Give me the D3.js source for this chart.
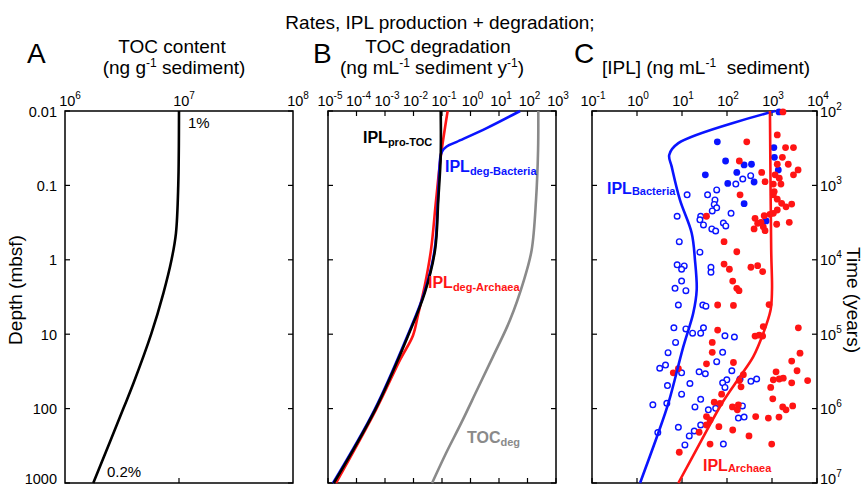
<!DOCTYPE html>
<html>
<head>
<meta charset="utf-8">
<script src="https://cdn.jsdelivr.net/npm/d3@7"></script>
<style>
    body { margin: 0; background: #fff; }
    svg { font-family: "Liberation Sans", Arial, sans-serif; }
    text { white-space: pre; }
</style>
</head>
<body>
<div id="chart" style="width:868px;height:486px;"></div>
<script>
// ---- axes ----
var depthTicks = [0.01, 0.1, 1, 10, 100, 1000];
var depthLabels = ["0.01", "0.1", "1", "10", "100", "1000"];
var timeTicks = [1e2, 1e3, 1e4, 1e5, 1e6, 1e7];
var aTopExp = [6, 7, 8];
var bTopExp = [-5, -4, -3, -2, -1, 0, 1, 2, 3];
var cTopExp = [-1, 0, 1, 2, 3, 4];
var cRightExp = [2, 3, 4, 5, 6, 7];

// ---- A: TOC content (ng/g) vs depth ----
var tocDepth = [0.01, 0.1, 0.44, 1, 2.8, 10, 45, 100, 1000];
var tocContent = [1.0e7, 9.85e6, 9.4e6, 8.6e6, 7.3e6, 5.7e6, 4.0e6, 3.25e6, 1.77e6];

// ---- B: rates (ng/mL/y) vs depth ----
var tocDegDepth = [0.01, 0.0334, 0.157, 0.738, 1.87, 6.45, 20, 56.3, 158, 398, 1000];
var tocDegRate = [239, 235, 199, 140, 75, 24.3, 6.15, 1.69, 0.465, 0.138, 0.045];
var arcDegDepth = [0.01, 0.043, 0.157, 0.74, 2.2, 5.5, 10.4, 22, 104, 1000];
var arcDegRate = [0.158, 0.089, 0.062, 0.041, 0.025, 0.0144, 0.0096, 0.0034, 0.00048, 1.9e-5];
var bacDegDepth = [0.01, 0.017, 0.026, 0.030, 0.035, 0.041, 0.157, 0.74, 2.76, 10.4, 104, 1000];
var bacDegRate = [55, 3.7, 0.33, 0.146, 0.1, 0.088, 0.072, 0.055, 0.024, 0.0062, 0.00043, 1.5e-5];
var proDepth = [0.01, 0.041, 0.157, 0.74, 2.76, 10.4, 104, 1000];
var proRate = [0.09, 0.09, 0.074, 0.057, 0.025, 0.0065, 0.00045, 1.6e-5];

// ---- C: [IPL] (ng/mL) vs depth ----
var cBacDepth = [0.01, 0.027, 0.039, 0.056, 0.157, 0.436, 1.0, 2.55, 5.2, 14.7, 84, 213, 1000];
var cBacConc = [1170, 8.3, 5.2, 5.9, 9.0, 16.4, 19.4, 21.2, 17.8, 10.7, 5.0, 2.97, 1.17];
var cArcDepth = [0.01, 0.74, 2.55, 4.73, 9.7, 20, 37, 81, 264, 1000];
var cArcConc = [900, 960, 1000, 930, 640, 384, 195, 81, 27.4, 8.3];

// measured samples [conc, depth]
var bacFilled = [[61, 0.026], [93, 0.047], [33, 0.072], [240, 0.053], [350, 0.052], [165, 0.067],
    [104, 0.094], [400, 0.090], [240, 0.176], [1100, 0.031], [1130, 0.042], [1380, 0.062],
    [740, 0.30], [1430, 0.0103]];
var bacOpen = [[157, 0.096], [224, 0.082], [336, 0.074], [123, 0.237], [83, 0.32], [94, 0.35],
    [13, 0.134], [37, 0.134], [59, 0.115], [54, 0.157], [52, 0.18], [59, 0.20], [47, 0.22],
    [7.8, 0.26], [26, 0.26], [25, 0.29], [30, 0.34], [46, 0.385], [56, 0.41],
    [8.7, 0.57], [25, 0.79], [7.8, 1.17], [11.2, 1.21], [9.8, 1.34], [44, 1.26], [44, 1.47],
    [9.8, 1.93], [7.0, 2.42], [12.2, 2.6], [8.3, 4.05], [29, 4.05], [34, 4.2], [6.6, 8.2],
    [12.2, 8.5], [17.2, 9.7], [26, 9.7], [30, 8.2], [7.2, 12.9], [4.9, 17.7], [3.2, 28.7],
    [4.3, 26], [9.8, 33], [24, 32], [33, 34], [4.75, 49], [15, 46], [9.8, 64], [2.25, 89],
    [4.6, 85], [26, 75], [19.4, 95], [38.5, 104], [56, 99], [2.9, 210], [8.3, 178], [14.5, 233],
    [18.7, 200], [26, 166], [11.6, 308], [83, 300], [59, 23.4], [80, 17.5], [90, 10.5],
    [146, 10.9], [128, 31], [99, 41], [80, 45], [90, 52], [195, 40], [340, 43], [456, 40],
    [220, 92], [179, 134], [240, 130]];
var arcFilled = [[1750, 0.0103], [35, 0.26], [86, 0.57], [86, 1.14], [275, 0.026], [1310, 0.021],
    [2000, 0.031], [3000, 0.031], [1700, 0.042], [1310, 0.052], [2300, 0.052], [188, 0.047],
    [590, 0.067], [1170, 0.072], [1450, 0.080], [1580, 0.096], [3000, 0.072], [3800, 0.062],
    [700, 0.089], [1070, 0.096], [1120, 0.121], [1070, 0.134], [195, 0.134], [1310, 0.153],
    [1640, 0.174], [2050, 0.194], [2740, 0.178], [1310, 0.214], [1070, 0.237], [900, 0.245],
    [670, 0.255], [420, 0.277], [570, 0.314], [480, 0.323], [400, 0.385], [640, 0.36],
    [700, 0.406], [1270, 0.333], [2420, 0.314], [165, 0.78], [113, 1.34], [340, 1.26],
    [480, 1.2], [620, 1.44], [134, 1.93], [165, 2.42], [185, 2.6],
    [62, 4.05], [62, 8.8], [47, 12.9], [47, 17.5], [35, 25], [8.3, 29], [6.4, 33], [76, 64],
    [52, 82], [70, 85], [35, 128], [42, 142], [66, 175], [35, 166], [24, 208], [42, 300],
    [8.7, 386], [139, 4.1], [860, 4.0], [3850, 8.2], [420, 10.6], [520, 10.3], [640, 7.9],
    [620, 10.6], [4190, 18], [2740, 23], [139, 24], [1230, 32], [3600, 31], [6200, 42],
    [2740, 45], [1070, 41], [1450, 40], [1780, 39], [231, 35], [188, 42], [205, 51], [936, 52],
    [1040, 74], [132, 95], [179, 89], [170, 104], [1730, 95], [2050, 104], [2880, 92],
    [434, 128], [830, 134], [1430, 130], [134, 194], [308, 233], [985, 300]];

var BLUE = "#0a14ff", RED = "#ff1414", GRAY = "#8a8a8a";

var svg = d3.select("#chart")
    .append("svg")
    .attr("width", 868)
    .attr("height", 486);

var plotTop = 111, plotBottom = 483;
var y = d3.scaleLog().domain([0.01, 1000]).range([plotTop, plotBottom]);
var yTime = d3.scaleLog().domain([1e2, 1e7]).range([plotTop, plotBottom]);
var xA = d3.scaleLog().domain([1e6, 1e8]).range([65, 293]);
var xB = d3.scaleLog().domain([1e-5, 1e3]).range([328, 556]);
var xC = d3.scaleLog().domain([1e-1, 1e4]).range([592, 817]);

// text with super/subscript parts
function addText(x, yy, parts, size, anchor, color, weight) {
    var t = svg.append("text")
        .attr("x", x)
        .attr("y", yy)
        .attr("font-size", size)
        .attr("text-anchor", anchor || "start")
        .attr("fill", color || "#000")
        .attr("font-weight", weight || "normal");
    var shift = 0;
    parts.forEach(function (p) {
        if (typeof p === "string") p = { t: p };
        var s = 0;
        if (p.sup) s = -(p.up || size * 0.42);
        if (p.sub) s = p.down || size * 0.25;
        var ts = t.append("tspan").attr("dy", s - shift).text(p.t);
        if (p.size) ts.attr("font-size", p.size);
        if (p.w) ts.attr("font-weight", p.w);
        shift = s;
    });
    return t;
}

function frame(x) {
    var r = x.range();
    svg.append("rect")
        .attr("x", r[0])
        .attr("y", plotTop)
        .attr("width", r[1] - r[0])
        .attr("height", plotBottom - plotTop)
        .attr("fill", "none")
        .attr("stroke", "#000")
        .attr("stroke-width", 1.5);
}

function ticks(x, xVals, yScale, yVals) {
    var r = x.range();
    var g = svg.append("g").attr("stroke", "#000").attr("stroke-width", 1.2);
    xVals.forEach(function (v) {
        g.append("line").attr("x1", x(v)).attr("x2", x(v)).attr("y1", plotTop).attr("y2", plotTop + 5);
        g.append("line").attr("x1", x(v)).attr("x2", x(v)).attr("y1", plotBottom).attr("y2", plotBottom - 5);
    });
    yVals.forEach(function (v) {
        g.append("line").attr("x1", r[0]).attr("x2", r[0] + 5).attr("y1", yScale(v)).attr("y2", yScale(v));
        g.append("line").attr("x1", r[1]).attr("x2", r[1] - 5).attr("y1", yScale(v)).attr("y2", yScale(v));
    });
}

function topLabels(x, exps, dx) {
    exps.forEach(function (e) {
        addText(x(Math.pow(10, e)) + dx, 106, ["10", { t: String(e), sup: true, size: 10, up: 7 }], 14.5, "middle");
    });
}

// keep the lowest side labels inside the page
function sideY(py) {
    return Math.min(py + 5.5, 484);
}

function curve(x, depths, vals, color, width) {
    var pts = depths.map(function (d, i) { return [vals[i], d]; });
    var line = d3.line()
        .x(function (d) { return x(d[0]); })
        .y(function (d) { return y(d[1]); })
        .curve(d3.curveCatmullRom.alpha(0.5));
    svg.append("path")
        .datum(pts)
        .attr("d", line)
        .attr("fill", "none")
        .attr("stroke", color)
        .attr("stroke-width", width || 2.6)
        .attr("stroke-linejoin", "round");
}

// ---- titles ----
addText(440, 29, ["Rates, IPL production + degradation;"], 19, "middle");
addText(27, 63, ["A"], 28);
addText(313, 63, ["B"], 28);
addText(574, 63, ["C"], 28);
addText(172, 53, ["TOC content"], 19, "middle");
addText(174, 74, ["(ng g", { t: "-1", sup: true, size: 12, up: 7 }, " sediment)"], 19, "middle");
addText(438, 53, ["TOC degradation"], 19, "middle");
addText(432, 74, ["(ng mL", { t: "-1", sup: true, size: 12, up: 7 }, " sediment y", { t: "-1", sup: true, size: 12, up: 7 }, ")"], 19, "middle");
addText(706, 74, ["[IPL] (ng mL", { t: "-1", sup: true, size: 12, up: 7 }, "  sediment)"], 19, "middle");

// ---- frames and ticks ----
frame(xA);
frame(xB);
frame(xC);
ticks(xA, [1e7], y, depthTicks);
ticks(xB, bTopExp.map(function (e) { return Math.pow(10, e); }), y, depthTicks);
ticks(xC, cTopExp.map(function (e) { return Math.pow(10, e); }), yTime, timeTicks);

topLabels(xA, aTopExp, 5);
topLabels(xB, bTopExp, 2);
topLabels(xC, cTopExp, 1);

depthTicks.forEach(function (v, i) {
    addText(57, sideY(y(v)), [depthLabels[i]], 14.5, "end");
});
cRightExp.forEach(function (e) {
    addText(820, sideY(yTime(Math.pow(10, e))), ["10", { t: String(e), sup: true, size: 10, up: 7 }], 14.5, "start");
});

svg.append("text")
    .attr("transform", "translate(22,290) rotate(-90)")
    .attr("text-anchor", "middle")
    .attr("font-size", 19)
    .text("Depth (mbsf)");
svg.append("text")
    .attr("transform", "translate(847,300) rotate(90)")
    .attr("text-anchor", "middle")
    .attr("font-size", 19)
    .text("Time (years)");

// ---- A ----
curve(xA, tocDepth, tocContent, "#000", 2.6);
addText(188, 128, ["1%"], 15);
addText(107, 477, ["0.2%"], 15);

// ---- B ----
curve(xB, tocDegDepth, tocDegRate, GRAY, 2.6);
curve(xB, arcDegDepth, arcDegRate, RED, 2.6);
curve(xB, bacDegDepth, bacDegRate, BLUE, 2.6);
curve(xB, proDepth, proRate, "#000", 2.6);
addText(363, 143, ["IPL", { t: "pro-TOC", sub: true, size: 11, down: 3 }], 16, "start", "#000", "bold");
addText(445, 172, ["IPL", { t: "deg-Bacteria", sub: true, size: 11, down: 3 }], 16, "start", BLUE, "bold");
addText(428, 288, ["IPL", { t: "deg-Archaea", sub: true, size: 11, down: 3 }], 16, "start", RED, "bold");
addText(467, 443, ["TOC", { t: "deg", sub: true, size: 11, down: 3 }], 16, "start", GRAY, "bold");

// ---- C ----
svg.append("g")
    .selectAll("circle")
    .data(bacOpen)
    .join("circle")
    .attr("cx", function (d) { return xC(d[0]); })
    .attr("cy", function (d) { return y(d[1]); })
    .attr("r", 2.8)
    .attr("fill", "#fff")
    .attr("stroke", BLUE)
    .attr("stroke-width", 1.4);
svg.append("g")
    .selectAll("circle")
    .data(bacFilled)
    .join("circle")
    .attr("cx", function (d) { return xC(d[0]); })
    .attr("cy", function (d) { return y(d[1]); })
    .attr("r", 3.4)
    .attr("fill", BLUE);
svg.append("g")
    .selectAll("circle")
    .data(arcFilled)
    .join("circle")
    .attr("cx", function (d) { return xC(d[0]); })
    .attr("cy", function (d) { return y(d[1]); })
    .attr("r", 3.4)
    .attr("fill", RED);

curve(xC, cBacDepth, cBacConc, BLUE, 2.6);
curve(xC, cArcDepth, cArcConc, RED, 2.6);
addText(607, 194, ["IPL", { t: "Bacteria", sub: true, size: 11, down: 1 }], 16, "start", BLUE, "bold");
addText(703, 471, ["IPL", { t: "Archaea", sub: true, size: 11, down: 1 }], 16, "start", RED, "bold");
</script>
</body>
</html>
